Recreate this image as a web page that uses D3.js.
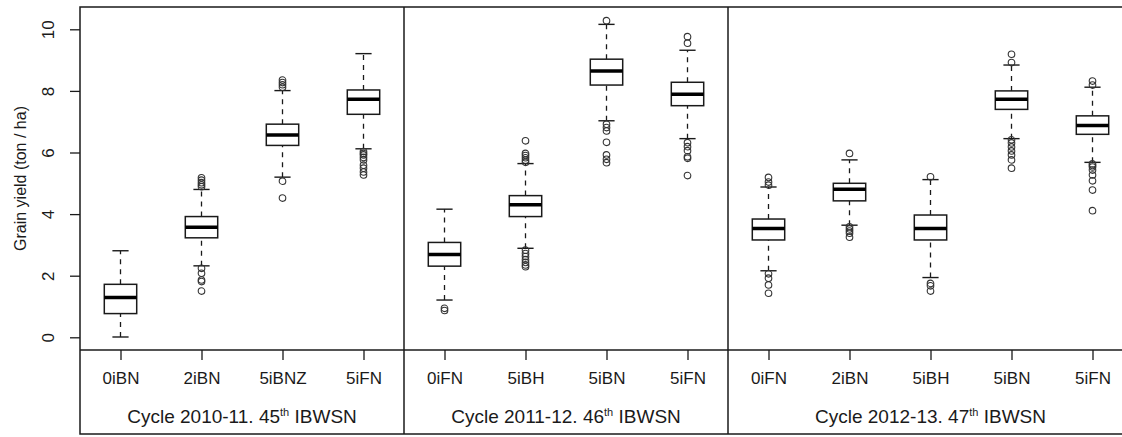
<!DOCTYPE html>
<html>
<head>
<meta charset="utf-8">
<script src="https://cdn.jsdelivr.net/npm/d3@7"></script>
<style>
  body { margin: 0; background: #fff; }
  svg { display: block; font-family: Arial, "Liberation Sans", sans-serif; }
</style>
</head>
<body>
<svg id="chart" width="1122" height="437"></svg>
<script>
// treatment labels, one per box (x positions 1..13)
const treatments = ['0iBN', '2iBN', '5iBNZ', '5iFN', '0iFN', '5iBH', '5iBN', '5iFN', '0iFN', '2iBN', '5iBH', '5iBN', '5iFN']
// cycles: label, first and last box position
const cycles = [
  { label: 'Cycle 2010-11. 45', from: 1, to: 4 },
  { label: 'Cycle 2011-12. 46', from: 5, to: 8 },
  { label: 'Cycle 2012-13. 47', from: 9, to: 13 },
]
// box stats: [lower whisker, q1, median, q3, upper whisker]
const stats = [
  [0.01, 0.77, 1.29, 1.72, 2.81],
  [2.32, 3.23, 3.57, 3.92, 4.80],
  [5.20, 6.23, 6.57, 6.92, 8.01],
  [6.12, 7.24, 7.73, 8.03, 9.21],
  [1.21, 2.31, 2.69, 3.08, 4.16],
  [2.89, 3.92, 4.30, 4.60, 5.64],
  [7.03, 8.19, 8.65, 9.03, 10.16],
  [6.45, 7.52, 7.89, 8.28, 9.32],
  [2.16, 3.16, 3.53, 3.84, 4.88],
  [3.64, 4.43, 4.81, 5.00, 5.76],
  [1.94, 3.16, 3.53, 3.97, 5.12],
  [6.45, 7.40, 7.73, 8.00, 8.84],
  [5.68, 6.59, 6.88, 7.19, 8.12],
]
const outliers = [
  [],
  [5.18, 5.10, 5.02, 4.95, 4.89, 2.24, 2.08, 1.86, 1.81, 1.50],
  [8.35, 8.27, 8.20, 8.12, 5.07, 4.52],
  [6.03, 5.97, 5.92, 5.84, 5.76, 5.59, 5.49, 5.37, 5.27],
  [0.94, 0.87],
  [6.38, 5.97, 5.90, 5.83, 5.75, 5.68, 2.83, 2.72, 2.62, 2.52, 2.43, 2.35, 2.29],
  [10.28, 6.92, 6.81, 6.70, 6.33, 5.92, 5.78, 5.67],
  [9.76, 9.55, 6.32, 6.19, 6.06, 5.86, 5.81, 5.25],
  [5.19, 5.04, 4.94, 2.06, 1.92, 1.70, 1.43],
  [5.97, 3.59, 3.52, 3.45, 3.38, 3.25],
  [5.21, 1.75, 1.67, 1.50],
  [9.19, 8.92, 6.41, 6.31, 6.18, 6.05, 5.92, 5.76, 5.49],
  [8.32, 8.19, 5.63, 5.58, 5.53, 5.43, 5.27, 5.08, 4.78, 4.11],
]
const yTicks = [0, 2, 4, 6, 8, 10]

const svg = d3.select('#chart')
const ink = '#1a1a1a'
const FONT = 'Arial, "Liberation Sans", sans-serif'

const FRAME_L = 80, FRAME_T = 7, AXIS_Y = 350, FRAME_B = 434, FRAME_R = 1140
const x = d3.scaleLinear().domain([0.5, 13.5]).range([80, 1133])
const y = d3.scaleLinear().domain([0, 10]).range([337.3, 29.3])
const boxW = x(1.4) - x(1)
const capW = boxW / 2

// y axis
const gy = svg.append('g').attr('transform', `translate(${FRAME_L},0)`)
  .call(d3.axisLeft(y).tickValues(yTicks).tickSize(10).tickFormat(d3.format('d')))
  .attr('font-family', FONT)
gy.select('.domain').remove()
gy.selectAll('line').attr('stroke', ink).attr('stroke-width', 1.3)
gy.selectAll('text')
  .attr('x', 0).attr('y', 0).attr('dy', '0.36em')
  .attr('text-anchor', 'middle')
  .attr('transform', 'translate(-32,0) rotate(-90)')
  .attr('fill', ink).style('font-size', '17px')

svg.append('text')
  .attr('transform', `translate(20,${(FRAME_T + AXIS_Y) / 2}) rotate(-90)`)
  .attr('text-anchor', 'middle').attr('dy', '0.36em')
  .attr('fill', ink).style('font-size', '16px')
  .text('Grain yield (ton / ha)')

// x axis
const gx = svg.append('g').attr('transform', `translate(0,${AXIS_Y})`)
  .call(d3.axisBottom(x).tickValues(d3.range(1, 14)).tickSize(10).tickFormat(d => treatments[d - 1]))
  .attr('font-family', FONT)
gx.select('.domain').remove()
gx.selectAll('line').attr('stroke', ink).attr('stroke-width', 1.3)
gx.selectAll('text')
  .attr('y', 28).attr('dy', '0.36em')
  .attr('fill', ink).style('font-size', '17px')

// cycle labels
cycles.forEach(c => {
  const t = svg.append('text')
    .attr('x', (x(c.from - 0.5) + x(c.to + 0.5)) / 2)
    .attr('y', 423)
    .attr('text-anchor', 'middle')
    .attr('fill', ink).style('font-size', '19px')
  t.append('tspan').text(c.label)
  t.append('tspan').text('th').style('font-size', '11px').attr('dy', -7)
  t.append('tspan').text(' IBWSN').attr('dy', 7)
})

// frame and dividers
const frame = svg.append('g').attr('fill', 'none').attr('stroke', ink).attr('stroke-width', 1.5)
frame.append('rect').attr('x', FRAME_L).attr('y', FRAME_T).attr('width', FRAME_R - FRAME_L).attr('height', FRAME_B - FRAME_T)
frame.append('line').attr('x1', FRAME_L).attr('x2', FRAME_R).attr('y1', AXIS_Y).attr('y2', AXIS_Y)
cycles.slice(1).forEach(c => {
  frame.append('line').attr('x1', x(c.from - 0.5)).attr('x2', x(c.from - 0.5)).attr('y1', FRAME_T).attr('y2', FRAME_B)
})

// boxes
const boxes = svg.append('g').selectAll('g').data(stats).join('g')
  .attr('transform', (d, i) => `translate(${x(i + 1)},0)`)

boxes.append('line')
  .attr('y1', d => y(d[0])).attr('y2', d => y(d[1]))
  .attr('stroke', ink).attr('stroke-width', 1.3).attr('stroke-dasharray', '5,5')
boxes.append('line')
  .attr('y1', d => y(d[3])).attr('y2', d => y(d[4]))
  .attr('stroke', ink).attr('stroke-width', 1.3).attr('stroke-dasharray', '5,5')
boxes.selectAll('.cap').data(d => [d[0], d[4]]).join('line').attr('class', 'cap')
  .attr('x1', -capW / 2).attr('x2', capW / 2)
  .attr('y1', d => y(d)).attr('y2', d => y(d))
  .attr('stroke', ink).attr('stroke-width', 1.4)
boxes.append('rect')
  .attr('x', -boxW / 2).attr('width', boxW)
  .attr('y', d => y(d[3])).attr('height', d => y(d[1]) - y(d[3]))
  .attr('fill', '#fff').attr('stroke', ink).attr('stroke-width', 1.5)
boxes.append('line')
  .attr('x1', -boxW / 2).attr('x2', boxW / 2)
  .attr('y1', d => y(d[2])).attr('y2', d => y(d[2]))
  .attr('stroke', '#000').attr('stroke-width', 3.5)

boxes.selectAll('circle').data((d, i) => outliers[i]).join('circle')
  .attr('cx', 0).attr('cy', d => y(d)).attr('r', 3.3)
  .attr('fill', 'none').attr('stroke', '#333').attr('stroke-width', 1.1)
</script>
</body>
</html>
